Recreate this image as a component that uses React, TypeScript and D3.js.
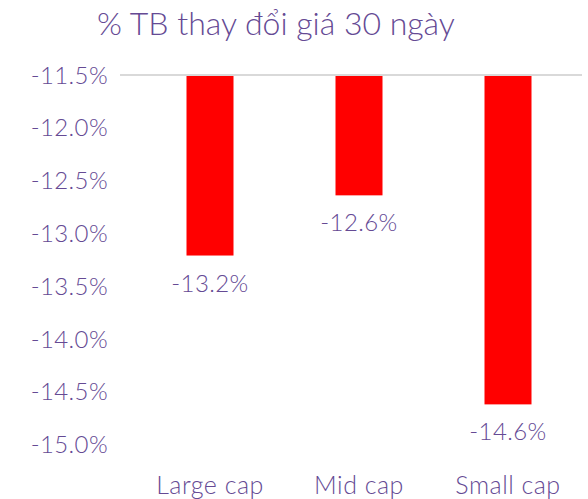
import React from "react";
import * as d3 from "d3";

const categories = ["Large cap", "Mid cap", "Small cap"];
const values = [-13.21, -12.64, -14.62];
const valueLabels = ["-13.2%", "-12.6%", "-14.6%"];
const yTicks = [-11.5, -12.0, -12.5, -13.0, -13.5, -14.0, -14.5, -15.0];
const title = "% TB thay đổi giá 30 ngày";

const W = 588;
const H = 499;
const TEXT = "#654a94";
const FONT = "Lato, 'Open Sans', sans-serif";

export default function App() {
  const y = d3.scaleLinear().domain([-11.5, -15.0]).range([75, 444.5]);
  const xs = d3.scalePoint().domain(categories).range([210, 508]);
  const bw = 47;

  return (
    <svg width={W} height={H} style={{ position: "absolute", left: 0, top: 0, background: "#fff" }}>
      <text x={276} y={35} textAnchor="middle" fontFamily={FONT} fontWeight={300} fontSize={32} fill={TEXT}>
        {title}
      </text>
      <line x1={120} x2={582} y1={y(-11.5)} y2={y(-11.5)} stroke="#d9d9d9" strokeWidth={2} />
      {yTicks.map((t) => (
        <text key={t} x={108} y={y(t)} dy="0.36em" textAnchor="end" fontFamily={FONT} fontWeight={300} fontSize={24} letterSpacing={0.4} fill={TEXT}>
          {t.toFixed(1) + "%"}
        </text>
      ))}
      {categories.map((c, i) => {
        const c0 = xs(c) as number;
        const top = y(-11.5) + 1;
        const bot = y(values[i]);
        return (
          <g key={c}>
            <rect x={c0 - bw / 2} y={top} width={bw} height={bot - top} fill="#ff0000" />
            <text x={c0} y={bot + 36} textAnchor="middle" fontFamily={FONT} fontWeight={300} fontSize={24} letterSpacing={0.4} fill={TEXT}>
              {valueLabels[i]}
            </text>
            <text x={c0} y={494} textAnchor="middle" fontFamily={FONT} fontWeight={300} fontSize={25} letterSpacing={0.5} fill={TEXT}>
              {c}
            </text>
          </g>
        );
      })}
    </svg>
  );
}
